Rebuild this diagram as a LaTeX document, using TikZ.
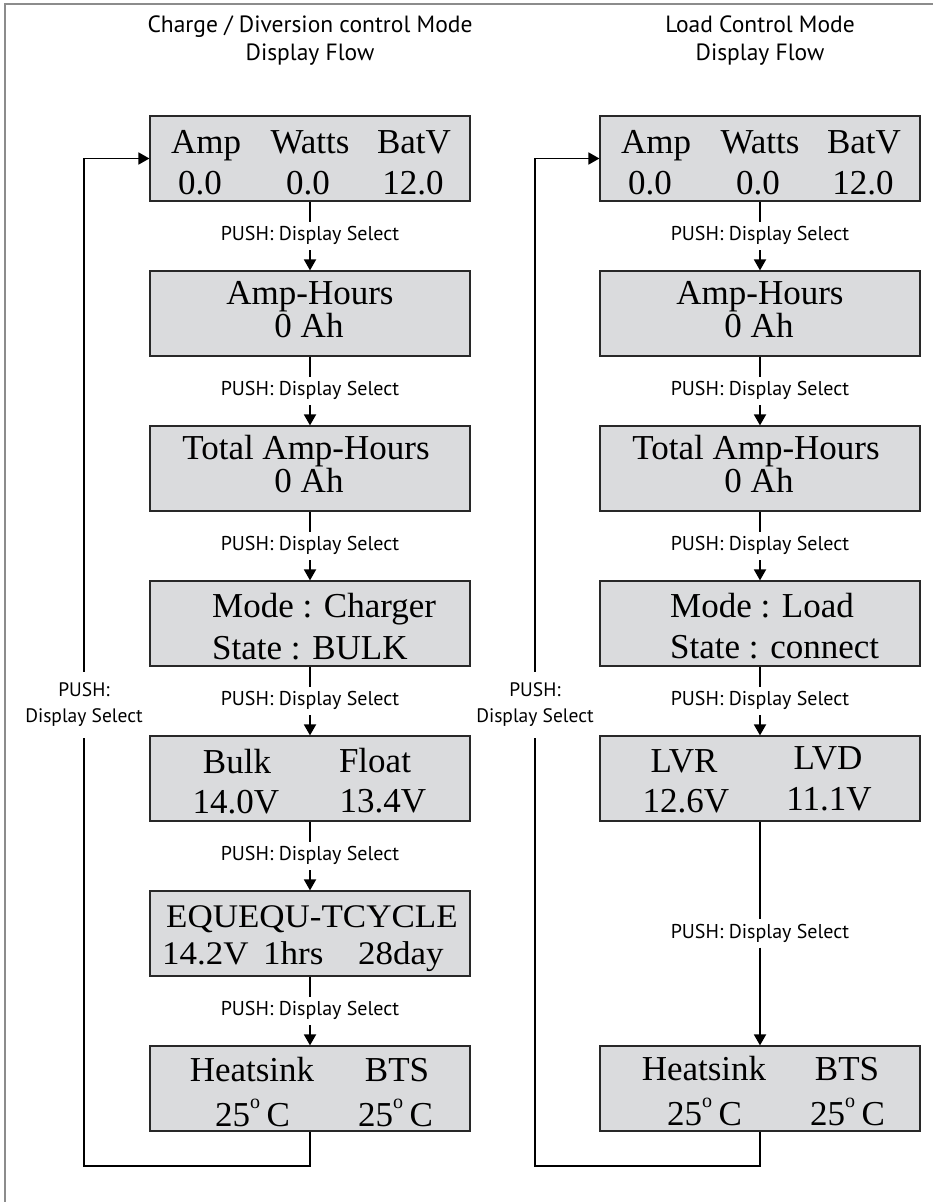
\documentclass[tikz,border=0pt]{standalone}
\usepackage{fontspec}
\usepackage{graphicx}
\setmainfont{Liberation Serif}
\newfontfamily\lblfont{PT Sans}
\usetikzlibrary{arrows.meta,calc}
\definecolor{boxfill}{RGB}{218,219,221}
\definecolor{boxline}{RGB}{40,40,40}
\definecolor{framegray}{RGB}{140,140,140}
\newcommand{\degC}{25\raisebox{0.5em}{\fontsize{20}{20}\selectfont o}\hspace{0.18em}C}
\begin{document}
\begin{tikzpicture}[x=1pt,y=-1pt,
  disp/.style={draw=boxline,line width=1.2pt,fill=boxfill,minimum width=320pt,minimum height=85pt,inner sep=0pt},
  dtxt/.style={font=\fontsize{35}{35}\selectfont,inner sep=0pt,anchor=base},
  dtxtl/.style={dtxt,anchor=base west},
  eqtxt/.style={dtxtl,font=\fontsize{33}{33}\selectfont},
  lbl/.style={font=\lblfont\fontsize{20}{22}\selectfont,inner xsep=2pt,inner ysep=5pt,text height=13.5pt,text depth=4.5pt},
  fblbl/.style={font=\lblfont\fontsize{19.5}{26}\selectfont,align=center,inner xsep=2pt,inner ysep=11pt},
  ttl/.style={font=\lblfont\fontsize{23.5}{28}\selectfont,align=center},
  conn/.style={line width=1.8pt},
  arr/.style={conn,-{Triangle[length=11pt,width=12pt]}}]
\useasboundingbox (0,0) rectangle (933,1202);
\fill[white] (0,0) rectangle (933,1202);
\draw[framegray,line width=1.5pt] (5,1202) -- (5,4) -- (933,4);

% titles
\node[ttl] (t1) at (310,41) {Charge / Diversion control Mode\\Display Flow};
\node[ttl] (t2) at (760,41) {Load Control Mode\\Display Flow};

% left column boxes
\node[disp] (l1) at (310,158.5) {};
\node[disp] (l2) at (310,313.5) {};
\node[disp] (l3) at (310,468.5) {};
\node[disp] (l4) at (310,623.5) {};
\node[disp] (l5) at (310,778.5) {};
\node[disp] (l6) at (310,933.5) {};
\node[disp] (l7) at (310,1088.5) {};
% right column boxes
\node[disp] (r1) at (760,158.5) {};
\node[disp] (r2) at (760,313.5) {};
\node[disp] (r3) at (760,468.5) {};
\node[disp] (r4) at (760,623.5) {};
\node[disp] (r5) at (760,778.5) {};
\node[disp] (r6) at (760,1088.5) {};

% left texts
\node[dtxt] (l1a) at (206,153) {Amp};
\node[dtxt] (l1b) at (310,153) {Watts};
\node[dtxt] (l1c) at (414,153) {BatV};
\node[dtxt] (l1d) at (200,194) {0.0};
\node[dtxt] (l1e) at (308,194) {0.0};
\node[dtxt] (l1f) at (413,194) {12.0};
\node[dtxt] (l2a) at (310,304) {Amp-Hours};
\node[dtxt] (l2b) at (309,337) {0 Ah};
\node[dtxt] (l3a) at (306,459) {Total Amp-Hours};
\node[dtxt] (l3b) at (309,492) {0 Ah};
\node[dtxtl] (l4a) at (212,617) {Mode : Charger};
\node[dtxtl] (l4b) at (212,659) {State : BULK};
\node[dtxt] (l5a) at (237,773) {Bulk};
\node[dtxt] (l5b) at (375,772) {Float};
\node[dtxt] (l5c) at (236,813) {14.0V};
\node[dtxt] (l5d) at (383,812) {13.4V};
\node[eqtxt] (l6a) at (166,927) {\scalebox{1.06}[1]{EQUEQU-TCYCLE}};
\node[eqtxt] (l6b) at (162,964) {\scalebox{1.06}[1]{14.2V}};
\node[eqtxt] (l6c) at (263,964) {\scalebox{1.06}[1]{1hrs}};
\node[eqtxt] (l6d) at (358,964) {\scalebox{1.06}[1]{28day}};
\node[dtxt] (l7a) at (252,1081) {Heatsink};
\node[dtxt] (l7b) at (397,1081) {BTS};
\node[dtxtl] (l7c) at (215,1126) {\degC};
\node[dtxtl] (l7d) at (358,1126) {\degC};

% right texts
\node[dtxt] (r1a) at (656,153) {Amp};
\node[dtxt] (r1b) at (760,153) {Watts};
\node[dtxt] (r1c) at (864,153) {BatV};
\node[dtxt] (r1d) at (650,194) {0.0};
\node[dtxt] (r1e) at (758,194) {0.0};
\node[dtxt] (r1f) at (863,194) {12.0};
\node[dtxt] (r2a) at (760,304) {Amp-Hours};
\node[dtxt] (r2b) at (759,337) {0 Ah};
\node[dtxt] (r3a) at (756,459) {Total Amp-Hours};
\node[dtxt] (r3b) at (759,492) {0 Ah};
\node[dtxtl] (r4a) at (670,617) {Mode : Load};
\node[dtxtl] (r4b) at (670,658) {State : connect};
\node[dtxt] (r5a) at (684,772) {LVR};
\node[dtxt] (r5b) at (828,769) {LVD};
\node[dtxt] (r5c) at (686,812) {12.6V};
\node[dtxt] (r5d) at (829,810) {11.1V};
\node[dtxt] (r6a) at (704,1080) {Heatsink};
\node[dtxt] (r6b) at (847,1080) {BTS};
\node[dtxtl] (r6c) at (667,1125) {\degC};
\node[dtxtl] (r6d) at (810,1125) {\degC};

% connectors between displays
\foreach \a/\b in {l1/l2,l2/l3,l3/l4,l4/l5,l5/l6,l6/l7,r1/r2,r2/r3,r3/r4,r4/r5,r5/r6}{
  \node[lbl] (p\a) at ($(\a.south)!0.5!(\b.north)$) {PUSH: Display Select};
  \draw[conn] (\a) -- (p\a);
  \draw[arr] (p\a) -- (\b);
}

% feedback loops
\coordinate (lc) at (84,1166);
\node[fblbl] (lfb) at (84,705) {PUSH:\\Display Select};
\draw[conn] (l7.south) |- (lc) -- (lfb);
\draw[arr] (lfb) |- (l1.west);

\coordinate (rc) at (535,1166);
\node[fblbl] (rfb) at (535,705) {PUSH:\\Display Select};
\draw[conn] (r6.south) |- (rc) -- (rfb);
\draw[arr] (rfb) |- (r1.west);
\end{tikzpicture}
\end{document}
